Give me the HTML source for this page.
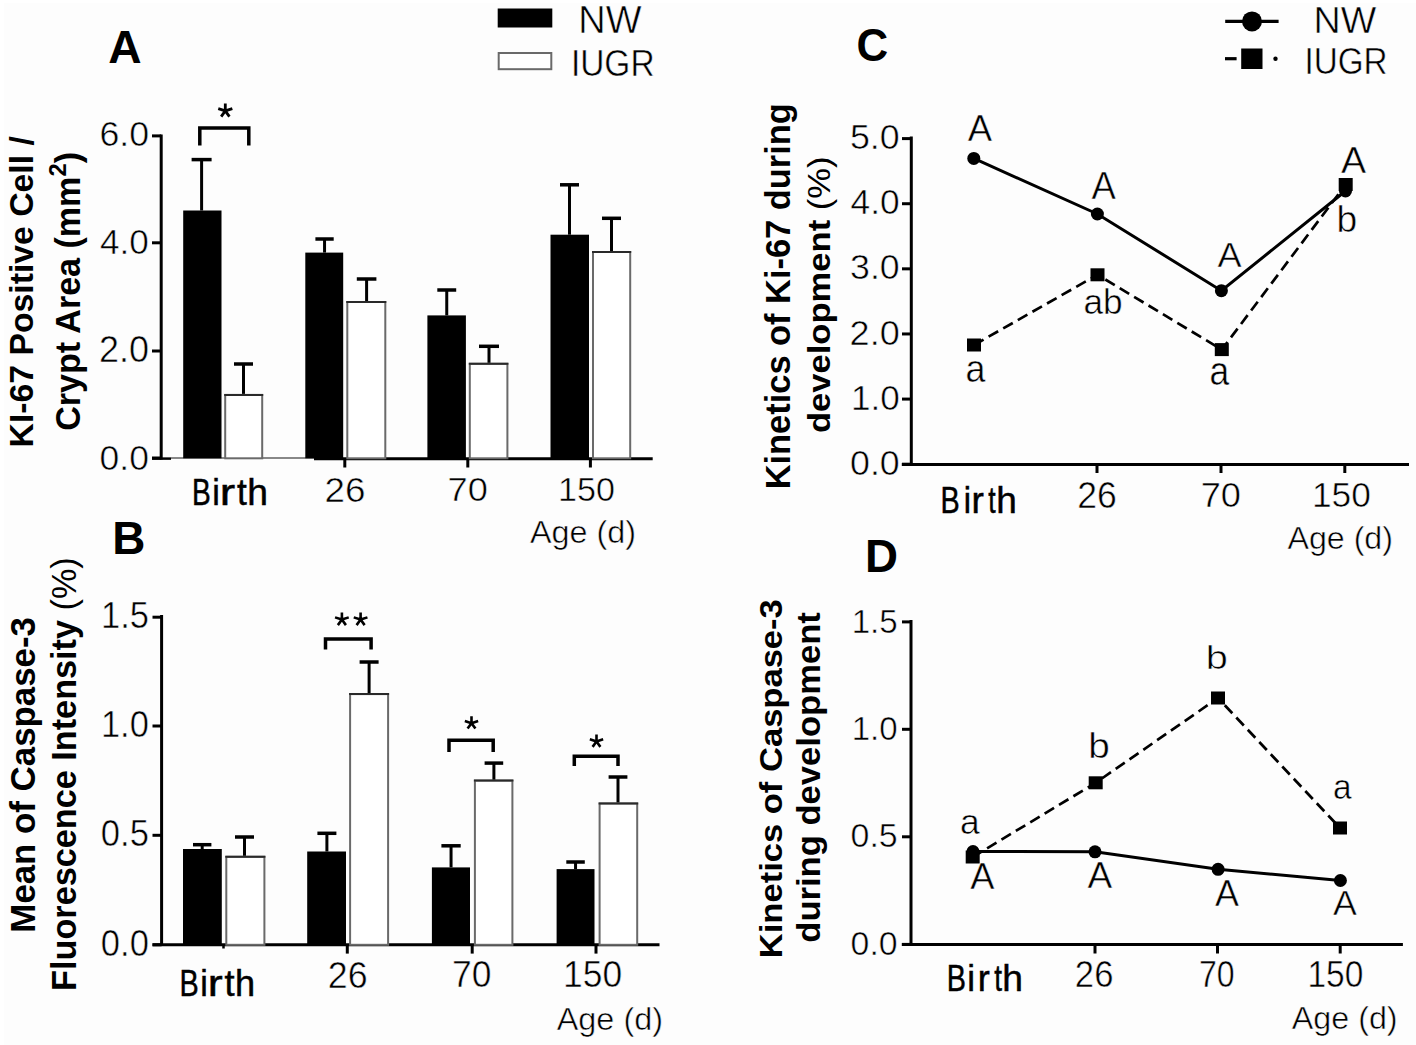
<!DOCTYPE html>
<html><head><meta charset="utf-8"><style>
html,body{margin:0;padding:0;background:#fff;}
svg{display:block;}
text{font-family:"Liberation Sans",sans-serif;}
.thin{stroke:#fff;stroke-width:0.5px;paint-order:normal;}
</style></head><body>
<svg width="1416" height="1045" viewBox="0 0 1416 1045">
<rect x="0" y="0" width="1416" height="1045" fill="#fff"/>
<rect x="4" y="3" width="1412" height="1042" fill="#fdfdfd"/>
<text transform="translate(108.35,63.40) scale(0.9810,1)" font-size="47.09" font-weight="bold" fill="#000">A</text>
<rect x="497.70" y="8.50" width="54.60" height="19.00" fill="#000"/>
<rect x="498.70" y="53.00" width="52.60" height="16.20" fill="#fff" stroke="#6a6a6a" stroke-width="2"/>
<text transform="translate(578.29,33.20) scale(0.9955,1)" font-size="38.08" font-weight="normal" fill="#000" class="thin">NW</text>
<text transform="translate(570.92,75.93) scale(0.9008,1)" font-size="37.15" font-weight="normal" fill="#000" class="thin">IUGR</text>
<line x1="161.2" y1="134.4" x2="161.2" y2="459.5" stroke="#000" stroke-width="3" stroke-linecap="butt"/>
<line x1="152" y1="135.9" x2="161.2" y2="135.9" stroke="#000" stroke-width="3" stroke-linecap="butt"/>
<line x1="152" y1="242.8" x2="161.2" y2="242.8" stroke="#000" stroke-width="3" stroke-linecap="butt"/>
<line x1="152" y1="351.0" x2="161.2" y2="351.0" stroke="#000" stroke-width="3" stroke-linecap="butt"/>
<line x1="152" y1="458.0" x2="161.2" y2="458.0" stroke="#000" stroke-width="3" stroke-linecap="butt"/>
<text transform="translate(99.38,146.46) scale(1.0357,1)" font-size="34.46" font-weight="normal" fill="#000" class="thin">6.0</text>
<text transform="translate(100.09,254.35) scale(0.9898,1)" font-size="35.45" font-weight="normal" fill="#000" class="thin">4.0</text>
<text transform="translate(98.90,362.24) scale(0.9871,1)" font-size="36.44" font-weight="normal" fill="#000" class="thin">2.0</text>
<text transform="translate(99.62,469.65) scale(1.0118,1)" font-size="35.03" font-weight="normal" fill="#000" class="thin">0.0</text>
<line x1="152" y1="458.6" x2="171" y2="458.6" stroke="#000" stroke-width="2.5" stroke-linecap="butt"/>
<line x1="171" y1="458" x2="314" y2="458" stroke="#888" stroke-width="2.2" stroke-linecap="butt"/>
<line x1="314" y1="458.8" x2="652.7" y2="458.8" stroke="#000" stroke-width="3" stroke-linecap="butt"/>
<line x1="344.8" y1="458" x2="344.8" y2="467.5" stroke="#000" stroke-width="3" stroke-linecap="butt"/>
<line x1="467.8" y1="458" x2="467.8" y2="467.5" stroke="#000" stroke-width="3" stroke-linecap="butt"/>
<line x1="590.4" y1="458" x2="590.4" y2="467.5" stroke="#000" stroke-width="3" stroke-linecap="butt"/>
<rect x="183.20" y="210.50" width="38.30" height="247.80" fill="#000"/>
<line x1="201.6" y1="159.6" x2="201.6" y2="210.5" stroke="#000" stroke-width="3" stroke-linecap="butt"/>
<line x1="191.6" y1="159.6" x2="211.6" y2="159.6" stroke="#000" stroke-width="3.5" stroke-linecap="butt"/>
<rect x="305.30" y="252.60" width="37.90" height="205.70" fill="#000"/>
<line x1="324.54999999999995" y1="239" x2="324.54999999999995" y2="252.6" stroke="#000" stroke-width="3" stroke-linecap="butt"/>
<line x1="315.4" y1="239" x2="333.7" y2="239" stroke="#000" stroke-width="3.5" stroke-linecap="butt"/>
<rect x="427.40" y="315.40" width="38.50" height="142.90" fill="#000"/>
<line x1="446.75" y1="290" x2="446.75" y2="315.4" stroke="#000" stroke-width="3" stroke-linecap="butt"/>
<line x1="437.3" y1="290" x2="456.2" y2="290" stroke="#000" stroke-width="3.5" stroke-linecap="butt"/>
<rect x="550.50" y="234.70" width="38.50" height="223.60" fill="#000"/>
<line x1="569.5" y1="184.8" x2="569.5" y2="234.7" stroke="#000" stroke-width="3" stroke-linecap="butt"/>
<line x1="560" y1="184.8" x2="579" y2="184.8" stroke="#000" stroke-width="3.5" stroke-linecap="butt"/>
<rect x="225.20" y="394.90" width="37.00" height="63.40" fill="#fff" stroke="#6a6a6a" stroke-width="2"/>
<line x1="224.2" y1="394.9" x2="263.2" y2="394.9" stroke="#2a2a2a" stroke-width="2" stroke-linecap="butt"/>
<line x1="243.5" y1="364" x2="243.5" y2="393.9" stroke="#000" stroke-width="3" stroke-linecap="butt"/>
<line x1="234" y1="364" x2="253" y2="364" stroke="#000" stroke-width="3.5" stroke-linecap="butt"/>
<rect x="347.30" y="302.00" width="38.00" height="156.30" fill="#fff" stroke="#6a6a6a" stroke-width="2"/>
<line x1="346.3" y1="302" x2="386.3" y2="302" stroke="#2a2a2a" stroke-width="2" stroke-linecap="butt"/>
<line x1="366.6" y1="279" x2="366.6" y2="301" stroke="#000" stroke-width="3" stroke-linecap="butt"/>
<line x1="356.8" y1="279" x2="376.4" y2="279" stroke="#000" stroke-width="3.5" stroke-linecap="butt"/>
<rect x="469.80" y="363.80" width="37.60" height="94.50" fill="#fff" stroke="#6a6a6a" stroke-width="2"/>
<line x1="468.8" y1="363.8" x2="508.4" y2="363.8" stroke="#2a2a2a" stroke-width="2" stroke-linecap="butt"/>
<line x1="489.0" y1="346.3" x2="489.0" y2="362.8" stroke="#000" stroke-width="3" stroke-linecap="butt"/>
<line x1="479" y1="346.3" x2="499" y2="346.3" stroke="#000" stroke-width="3.5" stroke-linecap="butt"/>
<rect x="593.00" y="252.00" width="37.20" height="206.30" fill="#fff" stroke="#6a6a6a" stroke-width="2"/>
<line x1="592" y1="252" x2="631.2" y2="252" stroke="#2a2a2a" stroke-width="2" stroke-linecap="butt"/>
<line x1="611.5" y1="218.3" x2="611.5" y2="251" stroke="#000" stroke-width="3" stroke-linecap="butt"/>
<line x1="602" y1="218.3" x2="621" y2="218.3" stroke="#000" stroke-width="3.5" stroke-linecap="butt"/>
<path d="M199.8 145.5 V128.0 H248.8 V145.5" fill="none" stroke="#000" stroke-width="3.5"/>
<path d="M225.30 110.90L225.30 103.50M225.30 110.90L232.34 108.61M225.30 110.90L229.43 116.59M225.30 110.90L221.17 116.59M225.30 110.90L218.26 108.61" stroke="#000" stroke-width="2.8" stroke-linecap="butt" fill="none"/>
<text transform="translate(191.89,504.71) scale(0.7724,1)" font-size="36.43" fill="#000" stroke="#000" stroke-width="0.5">B</text>
<text transform="translate(212.21,504.71) scale(0.9375,1)" font-size="36.43" fill="#000" stroke="#000" stroke-width="0.5">i</text>
<text transform="translate(219.71,504.71) scale(1.2694,1)" font-size="36.43" fill="#000" stroke="#000" stroke-width="0.5">r</text>
<text transform="translate(236.88,504.71) scale(0.9676,1)" font-size="36.43" fill="#000" stroke="#000" stroke-width="0.5">t</text>
<text transform="translate(247.24,504.71) scale(1.0209,1)" font-size="36.43" fill="#000" stroke="#000" stroke-width="0.5">h</text>
<text transform="translate(324.46,501.64) scale(1.0349,1)" font-size="35.59" font-weight="normal" fill="#000" class="thin">26</text>
<text transform="translate(447.55,500.66) scale(1.0636,1)" font-size="34.04" font-weight="normal" fill="#000" class="thin">70</text>
<text transform="translate(558.01,500.66) scale(1.0026,1)" font-size="34.04" font-weight="normal" fill="#000" class="thin">150</text>
<text transform="translate(529.94,543.40) scale(1.0196,1)" font-size="31.73" font-weight="normal" fill="#000" class="thin">Age (d)</text>
<text transform="translate(112.22,553.50) scale(1.0026,1)" font-size="45.78" font-weight="bold" fill="#000">B</text>
<line x1="161.6" y1="615" x2="161.6" y2="946" stroke="#000" stroke-width="3" stroke-linecap="butt"/>
<line x1="152.5" y1="617.2" x2="161.6" y2="617.2" stroke="#000" stroke-width="3" stroke-linecap="butt"/>
<line x1="152.5" y1="726" x2="161.6" y2="726" stroke="#000" stroke-width="3" stroke-linecap="butt"/>
<line x1="152.5" y1="835.3" x2="161.6" y2="835.3" stroke="#000" stroke-width="3" stroke-linecap="butt"/>
<line x1="152.5" y1="944.8" x2="161.6" y2="944.8" stroke="#000" stroke-width="3" stroke-linecap="butt"/>
<text transform="translate(100.98,628.33) scale(0.9447,1)" font-size="36.53" font-weight="normal" fill="#000" class="thin">1.5</text>
<text transform="translate(100.98,737.14) scale(0.9560,1)" font-size="36.02" font-weight="normal" fill="#000" class="thin">1.0</text>
<text transform="translate(100.85,846.44) scale(0.9608,1)" font-size="36.02" font-weight="normal" fill="#000" class="thin">0.5</text>
<text transform="translate(100.85,955.94) scale(0.9586,1)" font-size="36.02" font-weight="normal" fill="#000" class="thin">0.0</text>
<line x1="152.5" y1="944.8" x2="659.5" y2="944.8" stroke="#000" stroke-width="3" stroke-linecap="butt"/>
<line x1="347.3" y1="944.8" x2="347.3" y2="953.6" stroke="#000" stroke-width="3" stroke-linecap="butt"/>
<line x1="472.2" y1="944.8" x2="472.2" y2="953.6" stroke="#000" stroke-width="3" stroke-linecap="butt"/>
<line x1="596" y1="944.8" x2="596" y2="953.6" stroke="#000" stroke-width="3" stroke-linecap="butt"/>
<line x1="223.5" y1="944.8" x2="223.5" y2="948.5" stroke="#000" stroke-width="2.5" stroke-linecap="butt"/>
<rect x="183.00" y="849.00" width="38.80" height="95.80" fill="#000"/>
<line x1="202.2" y1="844.7" x2="202.2" y2="849" stroke="#000" stroke-width="3" stroke-linecap="butt"/>
<line x1="193" y1="844.7" x2="211.4" y2="844.7" stroke="#000" stroke-width="3.5" stroke-linecap="butt"/>
<rect x="307.20" y="851.50" width="38.80" height="93.30" fill="#000"/>
<line x1="326.9" y1="833.3" x2="326.9" y2="851.5" stroke="#000" stroke-width="3" stroke-linecap="butt"/>
<line x1="317.4" y1="833.3" x2="336.4" y2="833.3" stroke="#000" stroke-width="3.5" stroke-linecap="butt"/>
<rect x="431.90" y="867.40" width="38.10" height="77.40" fill="#000"/>
<line x1="451.04999999999995" y1="845.8" x2="451.04999999999995" y2="867.4" stroke="#000" stroke-width="3" stroke-linecap="butt"/>
<line x1="441.4" y1="845.8" x2="460.7" y2="845.8" stroke="#000" stroke-width="3.5" stroke-linecap="butt"/>
<rect x="556.60" y="869.10" width="37.90" height="75.70" fill="#000"/>
<line x1="575.55" y1="862" x2="575.55" y2="869.1" stroke="#000" stroke-width="3" stroke-linecap="butt"/>
<line x1="566.3" y1="862" x2="584.8" y2="862" stroke="#000" stroke-width="3.5" stroke-linecap="butt"/>
<rect x="226.30" y="856.80" width="38.10" height="88.00" fill="#fff" stroke="#6a6a6a" stroke-width="2"/>
<line x1="225.3" y1="856.8" x2="265.4" y2="856.8" stroke="#2a2a2a" stroke-width="2" stroke-linecap="butt"/>
<line x1="244.5" y1="837" x2="244.5" y2="855.8" stroke="#000" stroke-width="3" stroke-linecap="butt"/>
<line x1="235" y1="837" x2="254" y2="837" stroke="#000" stroke-width="3.5" stroke-linecap="butt"/>
<rect x="350.10" y="694.10" width="38.00" height="250.70" fill="#fff" stroke="#6a6a6a" stroke-width="2"/>
<line x1="349.1" y1="694.1" x2="389.1" y2="694.1" stroke="#2a2a2a" stroke-width="2" stroke-linecap="butt"/>
<line x1="369.1" y1="662" x2="369.1" y2="693.1" stroke="#000" stroke-width="3" stroke-linecap="butt"/>
<line x1="359.6" y1="662" x2="378.6" y2="662" stroke="#000" stroke-width="3.5" stroke-linecap="butt"/>
<rect x="474.90" y="780.60" width="37.50" height="164.20" fill="#fff" stroke="#6a6a6a" stroke-width="2"/>
<line x1="473.9" y1="780.6" x2="513.4" y2="780.6" stroke="#2a2a2a" stroke-width="2" stroke-linecap="butt"/>
<line x1="493.9" y1="763.1" x2="493.9" y2="779.6" stroke="#000" stroke-width="3" stroke-linecap="butt"/>
<line x1="484.6" y1="763.1" x2="503.2" y2="763.1" stroke="#000" stroke-width="3.5" stroke-linecap="butt"/>
<rect x="599.60" y="803.40" width="37.60" height="141.40" fill="#fff" stroke="#6a6a6a" stroke-width="2"/>
<line x1="598.6" y1="803.4" x2="638.2" y2="803.4" stroke="#2a2a2a" stroke-width="2" stroke-linecap="butt"/>
<line x1="618.0" y1="777" x2="618.0" y2="802.4" stroke="#000" stroke-width="3" stroke-linecap="butt"/>
<line x1="608.6" y1="777" x2="627.4" y2="777" stroke="#000" stroke-width="3.5" stroke-linecap="butt"/>
<path d="M325.5 649.5 V639.0 H371.1 V649.5" fill="none" stroke="#000" stroke-width="3.5"/>
<path d="M449 752 V740.2 H493.2 V752" fill="none" stroke="#000" stroke-width="3.5"/>
<path d="M574.3 766 V756.3 H618 V766" fill="none" stroke="#000" stroke-width="3.5"/>
<path d="M341.90 619.60L341.90 612.40M341.90 619.60L348.75 617.38M341.90 619.60L345.92 625.13M341.90 619.60L337.88 625.13M341.90 619.60L335.05 617.38" stroke="#000" stroke-width="2.6" stroke-linecap="butt" fill="none"/>
<path d="M360.60 619.60L360.60 612.40M360.60 619.60L367.45 617.38M360.60 619.60L364.62 625.13M360.60 619.60L356.58 625.13M360.60 619.60L353.75 617.38" stroke="#000" stroke-width="2.6" stroke-linecap="butt" fill="none"/>
<path d="M471.50 723.20L471.50 716.20M471.50 723.20L478.16 721.04M471.50 723.20L475.41 728.58M471.50 723.20L467.59 728.58M471.50 723.20L464.84 721.04" stroke="#000" stroke-width="2.6" stroke-linecap="butt" fill="none"/>
<path d="M596.50 741.50L596.50 734.50M596.50 741.50L603.16 739.34M596.50 741.50L600.41 746.88M596.50 741.50L592.59 746.88M596.50 741.50L589.84 739.34" stroke="#000" stroke-width="2.6" stroke-linecap="butt" fill="none"/>
<text transform="translate(179.44,995.71) scale(0.7913,1)" font-size="36.43" fill="#000" stroke="#000" stroke-width="0.5">B</text>
<text transform="translate(200.32,995.71) scale(0.9320,1)" font-size="36.43" fill="#000" stroke="#000" stroke-width="0.5">i</text>
<text transform="translate(207.79,995.71) scale(1.2319,1)" font-size="36.43" fill="#000" stroke="#000" stroke-width="0.5">r</text>
<text transform="translate(224.58,995.71) scale(0.9940,1)" font-size="36.43" fill="#000" stroke="#000" stroke-width="0.5">t</text>
<text transform="translate(235.04,995.71) scale(0.9928,1)" font-size="36.43" fill="#000" stroke="#000" stroke-width="0.5">h</text>
<text transform="translate(327.81,987.63) scale(0.9737,1)" font-size="36.72" font-weight="normal" fill="#000" class="thin">26</text>
<text transform="translate(451.99,987.24) scale(0.9796,1)" font-size="36.16" font-weight="normal" fill="#000" class="thin">70</text>
<text transform="translate(563.11,987.24) scale(0.9795,1)" font-size="36.16" font-weight="normal" fill="#000" class="thin">150</text>
<text transform="translate(556.74,1030.01) scale(1.0391,1)" font-size="31.19" font-weight="normal" fill="#000" class="thin">Age (d)</text>
<text transform="translate(856.50,61.14) scale(0.9444,1)" font-size="46.47" font-weight="bold" fill="#000">C</text>
<line x1="1225.2" y1="21.4" x2="1278.6" y2="21.4" stroke="#000" stroke-width="3.2" stroke-linecap="butt"/>
<circle cx="1252" cy="21.4" r="10" fill="#000"/>
<text transform="translate(1313.61,32.80) scale(1.0003,1)" font-size="37.65" font-weight="normal" fill="#000" class="thin">NW</text>
<line x1="1225" y1="58.7" x2="1236.6" y2="58.7" stroke="#000" stroke-width="3.2" stroke-linecap="butt"/>
<rect x="1241.20" y="48.50" width="21.30" height="20.50" fill="#000"/>
<circle cx="1275.5" cy="58.7" r="2.2" fill="#000"/>
<text transform="translate(1304.44,74.33) scale(0.9089,1)" font-size="36.58" font-weight="normal" fill="#000" class="thin">IUGR</text>
<line x1="911.3" y1="136.5" x2="911.3" y2="466" stroke="#000" stroke-width="3" stroke-linecap="butt"/>
<line x1="902" y1="138.6" x2="911.3" y2="138.6" stroke="#000" stroke-width="3" stroke-linecap="butt"/>
<line x1="902" y1="203.72" x2="911.3" y2="203.72" stroke="#000" stroke-width="3" stroke-linecap="butt"/>
<line x1="902" y1="268.84000000000003" x2="911.3" y2="268.84000000000003" stroke="#000" stroke-width="3" stroke-linecap="butt"/>
<line x1="902" y1="333.96000000000004" x2="911.3" y2="333.96000000000004" stroke="#000" stroke-width="3" stroke-linecap="butt"/>
<line x1="902" y1="399.08000000000004" x2="911.3" y2="399.08000000000004" stroke="#000" stroke-width="3" stroke-linecap="butt"/>
<line x1="902" y1="464.20000000000005" x2="911.3" y2="464.20000000000005" stroke="#000" stroke-width="3" stroke-linecap="butt"/>
<text transform="translate(849.97,149.25) scale(1.0296,1)" font-size="34.75" font-weight="normal" fill="#000" class="thin">5.0</text>
<text transform="translate(850.59,214.37) scale(1.0164,1)" font-size="34.75" font-weight="normal" fill="#000" class="thin">4.0</text>
<text transform="translate(850.04,279.49) scale(1.0280,1)" font-size="34.75" font-weight="normal" fill="#000" class="thin">3.0</text>
<text transform="translate(849.60,344.61) scale(1.0375,1)" font-size="34.75" font-weight="normal" fill="#000" class="thin">2.0</text>
<text transform="translate(850.94,409.73) scale(1.0090,1)" font-size="34.75" font-weight="normal" fill="#000" class="thin">1.0</text>
<text transform="translate(850.01,474.85) scale(1.0288,1)" font-size="34.75" font-weight="normal" fill="#000" class="thin">0.0</text>
<line x1="901.8" y1="464.6" x2="1409" y2="464.6" stroke="#000" stroke-width="3" stroke-linecap="butt"/>
<line x1="1097" y1="464.6" x2="1097" y2="473" stroke="#000" stroke-width="3" stroke-linecap="butt"/>
<line x1="1221" y1="464.6" x2="1221" y2="473" stroke="#000" stroke-width="3" stroke-linecap="butt"/>
<line x1="1344.8" y1="464.6" x2="1344.8" y2="473" stroke="#000" stroke-width="3" stroke-linecap="butt"/>
<polyline points="974,345 1097.5,274.8 1221.8,349.6 1345.7,184.5" fill="none" stroke="#000" stroke-width="2.7" stroke-dasharray="11,5.8"/>
<polyline points="973.8,158.4 1097.4,214 1221.4,290.7 1345.5,191" fill="none" stroke="#000" stroke-width="3"/>
<circle cx="973.8" cy="158.4" r="6.5" fill="#000"/>
<circle cx="1097.4" cy="214" r="6.5" fill="#000"/>
<circle cx="1221.4" cy="290.7" r="6.5" fill="#000"/>
<circle cx="1345.5" cy="191" r="6.5" fill="#000"/>
<rect x="967.00" y="338.50" width="14.00" height="13.00" fill="#000"/>
<rect x="1090.50" y="268.30" width="14.00" height="13.00" fill="#000"/>
<rect x="1214.80" y="343.10" width="14.00" height="13.00" fill="#000"/>
<rect x="1338.70" y="178.00" width="14.00" height="13.00" fill="#000"/>
<text transform="translate(967.73,141.40) scale(0.9659,1)" font-size="37.79" font-weight="normal" fill="#000" class="thin">A</text>
<text transform="translate(1091.43,199.00) scale(0.9512,1)" font-size="38.37" font-weight="normal" fill="#000" class="thin">A</text>
<text transform="translate(1217.53,267.00) scale(1.0124,1)" font-size="35.76" font-weight="normal" fill="#000" class="thin">A</text>
<text transform="translate(1340.92,172.50) scale(0.9978,1)" font-size="37.79" font-weight="normal" fill="#000" class="thin">A</text>
<text transform="translate(965.50,381.62) scale(0.9431,1)" font-size="37.96" font-weight="normal" fill="#000" class="thin">a</text>
<text transform="translate(1083.52,314.26) scale(1.0230,1)" font-size="34.42" font-weight="normal" fill="#000" class="thin">ab</text>
<text transform="translate(1209.51,385.40) scale(0.8820,1)" font-size="40.15" font-weight="normal" fill="#000" class="thin">a</text>
<text transform="translate(1336.38,232.14) scale(1.0316,1)" font-size="36.05" font-weight="normal" fill="#000" class="thin">b</text>
<text transform="translate(940.54,513.11) scale(0.7909,1)" font-size="36.43" fill="#000" stroke="#000" stroke-width="0.5">B</text>
<text transform="translate(963.71,513.11) scale(0.8975,1)" font-size="36.43" fill="#000" stroke="#000" stroke-width="0.5">i</text>
<text transform="translate(971.61,513.11) scale(1.0194,1)" font-size="36.43" fill="#000" stroke="#000" stroke-width="0.5">r</text>
<text transform="translate(988.22,513.11) scale(0.7301,1)" font-size="36.43" fill="#000" stroke="#000" stroke-width="0.5">t</text>
<text transform="translate(996.33,513.11) scale(1.0159,1)" font-size="36.43" fill="#000" stroke="#000" stroke-width="0.5">h</text>
<text transform="translate(1077.22,507.94) scale(0.9796,1)" font-size="36.30" font-weight="normal" fill="#000" class="thin">26</text>
<text transform="translate(1200.65,507.45) scale(1.0336,1)" font-size="35.03" font-weight="normal" fill="#000" class="thin">70</text>
<text transform="translate(1311.92,507.45) scale(1.0074,1)" font-size="35.03" font-weight="normal" fill="#000" class="thin">150</text>
<text transform="translate(1287.44,549.26) scale(1.0393,1)" font-size="30.98" font-weight="normal" fill="#000" class="thin">Age (d)</text>
<text transform="translate(864.94,572.20) scale(1.0072,1)" font-size="45.35" font-weight="bold" fill="#000">D</text>
<line x1="911" y1="620" x2="911" y2="946" stroke="#000" stroke-width="3" stroke-linecap="butt"/>
<line x1="902" y1="621.9" x2="911" y2="621.9" stroke="#000" stroke-width="3" stroke-linecap="butt"/>
<line x1="902" y1="729.3" x2="911" y2="729.3" stroke="#000" stroke-width="3" stroke-linecap="butt"/>
<line x1="902" y1="836.8" x2="911" y2="836.8" stroke="#000" stroke-width="3" stroke-linecap="butt"/>
<line x1="902" y1="944.4" x2="911" y2="944.4" stroke="#000" stroke-width="3" stroke-linecap="butt"/>
<text transform="translate(851.68,632.56) scale(0.9707,1)" font-size="34.10" font-weight="normal" fill="#000" class="thin">1.5</text>
<text transform="translate(851.69,739.96) scale(0.9823,1)" font-size="33.62" font-weight="normal" fill="#000" class="thin">1.0</text>
<text transform="translate(850.58,847.46) scale(1.0090,1)" font-size="33.62" font-weight="normal" fill="#000" class="thin">0.5</text>
<text transform="translate(850.58,955.06) scale(1.0067,1)" font-size="33.62" font-weight="normal" fill="#000" class="thin">0.0</text>
<line x1="901.8" y1="944.6" x2="1402.9" y2="944.6" stroke="#000" stroke-width="3" stroke-linecap="butt"/>
<line x1="1095" y1="944.6" x2="1095" y2="953.5" stroke="#000" stroke-width="3" stroke-linecap="butt"/>
<line x1="1217.5" y1="944.6" x2="1217.5" y2="953.5" stroke="#000" stroke-width="3" stroke-linecap="butt"/>
<line x1="1340.2" y1="944.6" x2="1340.2" y2="953.5" stroke="#000" stroke-width="3" stroke-linecap="butt"/>
<polyline points="972.7,857 1095.7,782.8 1218,698 1340,828" fill="none" stroke="#000" stroke-width="2.7" stroke-dasharray="11,5.8"/>
<polyline points="973,851.5 1095,851.8 1218.1,869.3 1340.4,880.5" fill="none" stroke="#000" stroke-width="3"/>
<circle cx="973" cy="851.5" r="6.5" fill="#000"/>
<circle cx="1095" cy="851.8" r="6.5" fill="#000"/>
<circle cx="1218.1" cy="869.3" r="6.5" fill="#000"/>
<circle cx="1340.4" cy="880.5" r="6.5" fill="#000"/>
<rect x="965.70" y="850.50" width="14.00" height="13.00" fill="#000"/>
<rect x="1088.70" y="776.30" width="14.00" height="13.00" fill="#000"/>
<rect x="1211.00" y="691.50" width="14.00" height="13.00" fill="#000"/>
<rect x="1333.00" y="821.50" width="14.00" height="13.00" fill="#000"/>
<text transform="translate(960.11,834.06) scale(1.0321,1)" font-size="34.31" font-weight="normal" fill="#000" class="thin">a</text>
<text transform="translate(970.13,889.30) scale(0.9807,1)" font-size="37.06" font-weight="normal" fill="#000" class="thin">A</text>
<text transform="translate(1088.28,758.44) scale(1.0830,1)" font-size="35.78" font-weight="normal" fill="#000" class="thin">b</text>
<text transform="translate(1087.53,888.00) scale(1.0011,1)" font-size="37.06" font-weight="normal" fill="#000" class="thin">A</text>
<text transform="translate(1205.72,668.68) scale(1.2243,1)" font-size="32.38" font-weight="normal" fill="#000" class="thin">b</text>
<text transform="translate(1215.03,906.40) scale(0.9762,1)" font-size="36.77" font-weight="normal" fill="#000" class="thin">A</text>
<text transform="translate(1332.99,799.15) scale(0.9501,1)" font-size="35.22" font-weight="normal" fill="#000" class="thin">a</text>
<text transform="translate(1332.93,915.20) scale(1.0377,1)" font-size="34.45" font-weight="normal" fill="#000" class="thin">A</text>
<text transform="translate(946.84,991.41) scale(0.7911,1)" font-size="36.43" fill="#000" stroke="#000" stroke-width="0.5">B</text>
<text transform="translate(967.37,991.41) scale(0.9601,1)" font-size="36.43" fill="#000" stroke="#000" stroke-width="0.5">i</text>
<text transform="translate(977.63,991.41) scale(0.9908,1)" font-size="36.43" fill="#000" stroke="#000" stroke-width="0.5">r</text>
<text transform="translate(994.17,991.41) scale(0.7654,1)" font-size="36.43" fill="#000" stroke="#000" stroke-width="0.5">t</text>
<text transform="translate(1002.24,991.41) scale(1.0209,1)" font-size="36.43" fill="#000" stroke="#000" stroke-width="0.5">h</text>
<text transform="translate(1074.87,987.14) scale(0.9590,1)" font-size="36.16" font-weight="normal" fill="#000" class="thin">26</text>
<text transform="translate(1199.07,987.14) scale(0.8849,1)" font-size="36.16" font-weight="normal" fill="#000" class="thin">70</text>
<text transform="translate(1307.46,987.14) scale(0.9260,1)" font-size="36.16" font-weight="normal" fill="#000" class="thin">150</text>
<text transform="translate(1291.74,1029.21) scale(1.0352,1)" font-size="31.19" font-weight="normal" fill="#000" class="thin">Age (d)</text>
<text transform="translate(33.22,447.46) rotate(-90) scale(0.9939,1)" font-size="33.96" font-weight="bold" fill="#000">KI-67 Positive Cell /</text>
<text transform="translate(79.80,430.80) rotate(-90) scale(0.9650,1)" font-size="35.3" font-weight="bold">Crypt Area (mm<tspan font-size="24.71" dy="-13.50">2</tspan><tspan dy="13.50">)</tspan></text>
<text transform="translate(34.69,932.63) rotate(-90) scale(1.0192,1)" font-size="34.19" font-weight="bold" fill="#000">Mean of Caspase-3</text>
<text transform="translate(76.33,990.89) rotate(-90) scale(0.9799,1)" font-size="34.94" font-weight="bold" fill="#000">Fluorescence Intensity <tspan font-weight="normal">(%)</tspan></text>
<text transform="translate(790.21,489.31) rotate(-90) scale(1.0016,1)" font-size="34.36" font-weight="bold" fill="#000">Kinetics of Ki-67 during</text>
<text transform="translate(829.86,433.12) rotate(-90) scale(1.0833,1)" font-size="31.94" font-weight="bold" fill="#000">development <tspan font-weight="normal">(%)</tspan></text>
<text transform="translate(781.91,958.21) rotate(-90) scale(1.1078,1)" font-size="31.19" font-weight="bold" fill="#000">Kinetics of Caspase-3</text>
<text transform="translate(819.90,942.72) rotate(-90) scale(1.0325,1)" font-size="33.51" font-weight="bold" fill="#000">during development</text>
</svg></body></html>
